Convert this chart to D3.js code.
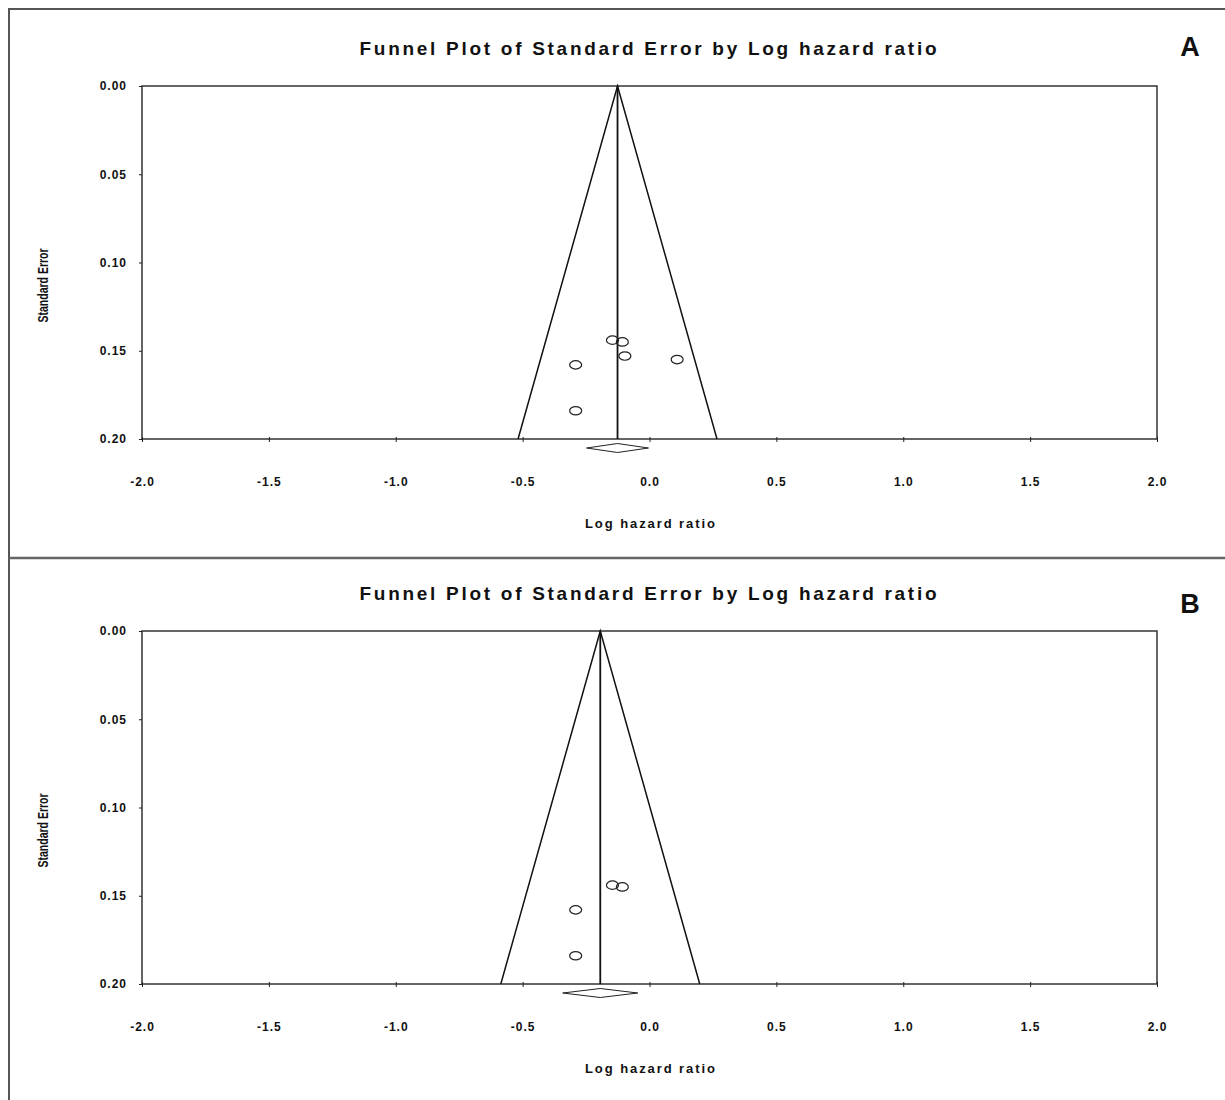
<!DOCTYPE html>
<html>
<head>
<meta charset="utf-8">
<script src="https://cdn.jsdelivr.net/npm/d3@7"></script>
<style>
  body { margin: 0; background: #fff; }
  svg { display: block; }
  text { font-family: Arial, "Liberation Sans", sans-serif; fill: #111; }
</style>
</head>
<body>
<svg width="1225" height="1100"></svg>
<script>
// axis ticks
const xTicks = [-2.0, -1.5, -1.0, -0.5, 0.0, 0.5, 1.0, 1.5, 2.0];
const yTicks = [0.00, 0.05, 0.10, 0.15, 0.20];

// panel A studies (log HR, standard error)
const logHrA = [-0.146, -0.107, -0.097, -0.291, 0.109, -0.291];
const seA = [0.144, 0.145, 0.153, 0.158, 0.155, 0.184];
const pooledA = -0.126;
const ciA = [-0.248, -0.004];

// panel B studies
const logHrB = [-0.146, -0.107, -0.291, -0.291];
const seB = [0.144, 0.145, 0.158, 0.184];
const pooledB = -0.194;
const ciB = [-0.342, -0.046];

const panels = [
  { label: "A", logHr: logHrA, se: seA, pooled: pooledA, ci: ciA, dy: 0, labelY: 56 },
  { label: "B", logHr: logHrB, se: seB, pooled: pooledB, ci: ciB, dy: 545, labelY: 68 }
];

const svg = d3.select("svg");

// outer frame and separator
svg.append("path")
  .attr("d", "M9,1100 V9 H1225")
  .attr("fill", "none")
  .attr("stroke", "#555")
  .attr("stroke-width", 2);
svg.append("line")
  .attr("x1", 9).attr("x2", 1225)
  .attr("y1", 558).attr("y2", 558)
  .attr("stroke", "#666")
  .attr("stroke-width", 2.5);

const x = d3.scaleLinear().domain([-2, 2]).range([142, 1157]);

panels.forEach(p => {
  const g = svg.append("g").attr("transform", `translate(0,${p.dy})`);
  const y = d3.scaleLinear().domain([0, 0.2]).range([86, 439]);

  // title
  g.append("text")
    .attr("x", 648).attr("y", 55)
    .attr("text-anchor", "middle")
    .attr("font-size", 19).attr("font-weight", "bold")
    .attr("textLength", 577).attr("lengthAdjust", "spacing")
    .text("Funnel Plot of Standard Error by Log hazard ratio");

  // panel letter
  g.append("text")
    .attr("x", 1190).attr("y", p.labelY)
    .attr("text-anchor", "middle")
    .attr("font-size", 27).attr("font-weight", "bold")
    .attr("fill", "#000")
    .text(p.label);

  // plot box
  g.append("rect")
    .attr("x", x(-2)).attr("y", y(0))
    .attr("width", x(2) - x(-2)).attr("height", y(0.2) - y(0))
    .attr("fill", "none").attr("stroke", "#333").attr("stroke-width", 1.5);

  // x axis
  const xAxis = g.append("g")
    .attr("transform", `translate(0,${y(0.2)})`)
    .call(d3.axisBottom(x).tickValues(xTicks).tickSize(3).tickFormat(d3.format(".1f")));
  xAxis.select(".domain").remove();
  xAxis.selectAll(".tick line").attr("y1", -2).attr("stroke", "#222");
  xAxis.selectAll(".tick text")
    .attr("y", 38)
    .attr("font-size", 12).attr("font-weight", "bold")
    .attr("font-family", "Arial, 'Liberation Sans', sans-serif")
    .attr("letter-spacing", 1)
    .text(d => d3.format(".1f")(d).replace("−", "-"));

  // y axis
  const yAxis = g.append("g")
    .attr("transform", `translate(${x(-2)},0)`)
    .call(d3.axisLeft(y).tickValues(yTicks).tickSize(3).tickFormat(d3.format(".2f")));
  yAxis.select(".domain").remove();
  yAxis.selectAll(".tick line").attr("stroke", "#222");
  yAxis.selectAll(".tick text")
    .attr("x", -15)
    .attr("font-size", 12).attr("font-weight", "bold")
    .attr("font-family", "Arial, 'Liberation Sans', sans-serif")
    .attr("letter-spacing", 1);

  // axis titles
  g.append("text")
    .attr("x", 650).attr("y", 528)
    .attr("text-anchor", "middle")
    .attr("font-size", 13).attr("font-weight", "bold")
    .attr("textLength", 130).attr("lengthAdjust", "spacing")
    .text("Log hazard ratio");
  g.append("text")
    .attr("transform", `translate(48,${y(0.113)}) rotate(-90)`)
    .attr("text-anchor", "middle")
    .attr("font-size", 14).attr("font-weight", "bold")
    .attr("font-family", "'DejaVu Sans Condensed', 'Liberation Sans Narrow', sans-serif")
    .attr("textLength", 74).attr("lengthAdjust", "spacingAndGlyphs")
    .text("Standard Error");

  // funnel
  const half = 1.96 * 0.2;
  g.append("path")
    .attr("d", d3.line()([
      [x(p.pooled - half), y(0.2)],
      [x(p.pooled), y(0)],
      [x(p.pooled + half), y(0.2)]
    ]))
    .attr("fill", "none").attr("stroke", "#111").attr("stroke-width", 1.5);
  g.append("line")
    .attr("x1", x(p.pooled)).attr("x2", x(p.pooled))
    .attr("y1", y(0)).attr("y2", y(0.2))
    .attr("stroke", "#111").attr("stroke-width", 1.8);

  // pooled diamond
  g.append("path")
    .attr("d", d3.line()([
      [x(p.ci[0]), y(0.2) + 9],
      [x(p.pooled), y(0.2) + 4.5],
      [x(p.ci[1]), y(0.2) + 9],
      [x(p.pooled), y(0.2) + 13.5]
    ]) + "Z")
    .attr("fill", "#fff").attr("stroke", "#222").attr("stroke-width", 1);

  // study points
  g.selectAll("ellipse.study")
    .data(p.logHr.map((v, i) => ({ v, se: p.se[i] })))
    .join("ellipse")
    .attr("class", "study")
    .attr("cx", d => x(d.v))
    .attr("cy", d => y(d.se))
    .attr("rx", 6).attr("ry", 4.2)
    .attr("fill", "none").attr("stroke", "#222").attr("stroke-width", 1.2);
});
</script>
</body>
</html>
